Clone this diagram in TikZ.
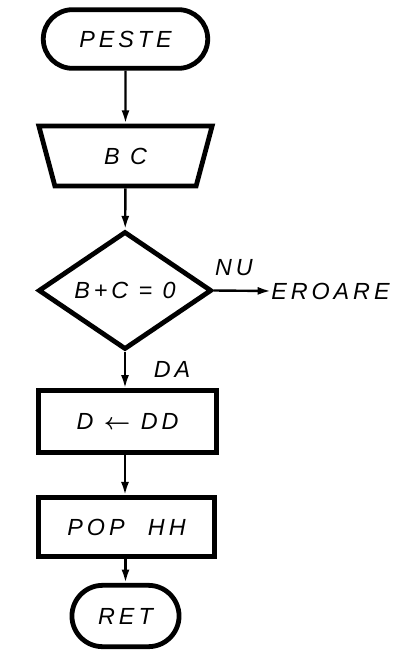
\documentclass[tikz,border=0pt]{standalone}
\usepackage{fontspec}
\usepackage{amsmath}
\setmainfont{Liberation Sans}
\usetikzlibrary{shapes.geometric,shapes.misc,arrows.meta}
\tikzset{
  lbl/.style={font=\fontsize{17.5}{19}\selectfont\itshape\addfontfeature{LetterSpace=17}},
  term/.style={rounded rectangle, draw, line width=3.6pt, lbl},
  procbox/.style={rectangle, draw, line width=3.6pt, lbl},
  inbox/.style={trapezium, trapezium stretches=true, trapezium left angle=77, trapezium right angle=77, shape border rotate=180, draw, line width=3.6pt, lbl},
  decbox/.style={diamond, draw, line width=3.6pt, inner sep=0pt, lbl},
  flow/.style={line width=1.8pt, -{Latex[length=10pt,width=6pt]}},
}
\begin{document}
\begin{tikzpicture}[x=0.75pt,y=-0.75pt]
\useasboundingbox (0,0) rectangle (401,651);
\node[term, minimum width=130pt, minimum height=44pt] (peste) at (125.5,39) {PESTE};
\node[inbox, minimum width=130pt, minimum height=45pt] (bc) at (125.5,156) {B C};
\node[decbox, minimum width=130pt, minimum height=86pt] (dec) at (125,290.5) {B+C = 0};
\node[procbox, minimum width=133pt, minimum height=46pt] (dd) at (127.5,421.5) {D $\boldsymbol{\leftarrow}$ DD};
\node[procbox, minimum width=132pt, minimum height=44pt] (pop) at (126.5,527) {POP\quad HH};
\node[term, minimum width=87pt, minimum height=46pt] (ret) at (125.5,616) {RET};
\node[lbl, anchor=west, inner sep=0pt] (err) at (271,291) {EROARE};
\node[lbl] (nu) at (234,268) {NU};
\node[lbl] (da) at (172,369) {DA};
\draw[flow] (peste) -- (bc);
\draw[flow] (bc) -- (dec);
\draw[flow] (dec.east) -- (err.west);
\draw[flow] (dec.south) -- (dec.south |- dd.north);
\draw[flow] (dd.south -| dec.south) -- (dec.south |- pop.north);
\draw[flow] (pop.south -| ret.north) -- (ret.north);
\end{tikzpicture}
\end{document}
